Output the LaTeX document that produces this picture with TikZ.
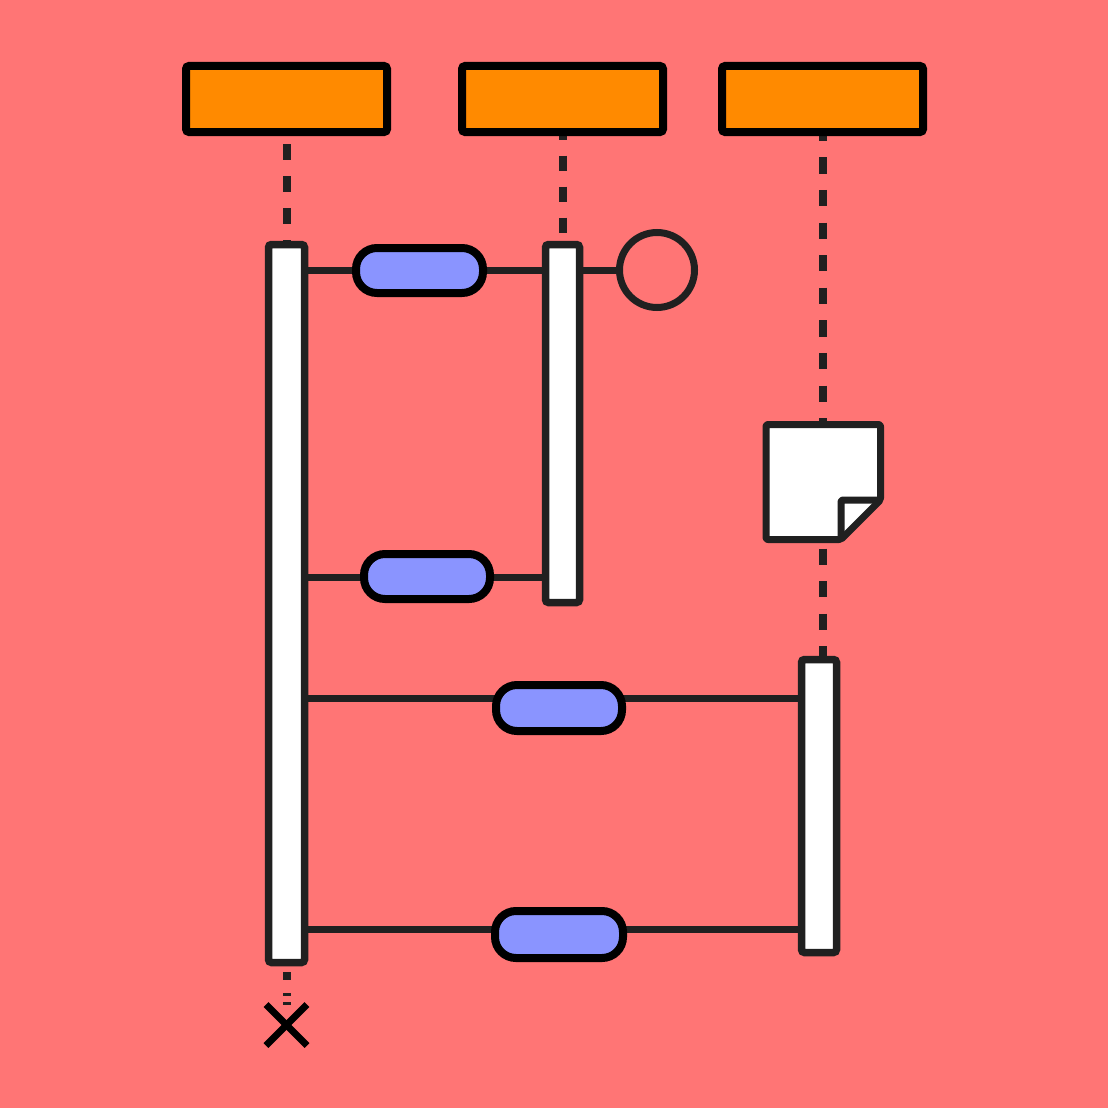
\documentclass[tikz,border=0pt]{standalone}
\usetikzlibrary{calc}
\definecolor{bgc}{HTML}{FF7575}
\definecolor{orng}{HTML}{FF8A00}
\definecolor{pillc}{HTML}{8A94FF}
\definecolor{ink}{HTML}{202020}
\pgfdeclarelayer{back}
\pgfdeclarelayer{lines}
\pgfsetlayers{back,lines,main}
\begin{document}
\begin{tikzpicture}[x=1pt,y=-1pt,
  header/.style={draw=black,fill=orng,line width=8pt,minimum width=201pt,minimum height=66pt,rounded corners=3pt,inner sep=0pt,outer sep=0pt},
  actbox/.style={draw=ink,fill=white,line width=7.5pt,rounded corners=3pt,inner sep=0pt,outer sep=0pt},
  msgpill/.style={draw=black,fill=pillc,line width=8pt,rounded corners=21pt,minimum width=127pt,minimum height=45pt,inner sep=0pt,outer sep=0pt},
  lifeline/.style={draw=ink,line width=8pt},
  msgline/.style={draw=ink,line width=7pt}]
\begin{pgfonlayer}{back}
\fill[bgc] (0,0) rectangle (1108,1108);
\end{pgfonlayer}
\useasboundingbox (0,0) rectangle (1108,1108);

% headers
\node[header] (h1) at (286.5,99) {};
\node[header] (h2) at (562.5,99) {};
\node[header] (h3) at (822.5,99) {};

% activation boxes
\node[actbox,minimum width=36pt,minimum height=718pt] (actA) at (286.5,603.5) {};
\node[actbox,minimum width=34pt,minimum height=358pt] (actB) at (562.5,423.5) {};
\node[actbox,minimum width=35pt,minimum height=293pt] (actC) at (819,806) {};

% message rows
\coordinate (m1) at (0,270);
\coordinate (m2) at (0,577);
\coordinate (m3) at (0,698);
\coordinate (m4) at (0,929.5);

% pills
\node[msgpill] (p1) at (419.5,270.5) {};
\node[msgpill,minimum width=126pt] (p2) at (427,576.5) {};
\node[msgpill,minimum width=126pt,minimum height=46pt] (p3) at (559,708) {};
\node[msgpill,minimum width=128pt,minimum height=47pt] (p4) at (559,934.5) {};

% circle
\node[draw=ink,line width=7pt,circle,minimum size=75pt,inner sep=0pt,outer sep=0pt] (circ) at (657,270) {};

% note
\coordinate (lc) at (823,132);
\draw[ink,line width=7pt,fill=white,line join=round,rounded corners=2pt]
  (766,424.5) -- (880.5,424.5) -- (880.5,500) -- (841,539.5) -- (766,539.5) -- cycle;
\draw[ink,line width=7pt,line join=round,rounded corners=2pt]
  (841,539.5) -- (841,500) -- (880.5,500);

\begin{pgfonlayer}{lines}
\draw[lifeline,dash pattern=on 16pt off 16pt,dash phase=20pt] (h1.south) -- (actA.north);
\draw[lifeline,dash pattern=on 15.5pt off 15.5pt,dash phase=7.5pt] (h2.south) -- (actB.north);
\draw[lifeline,dash pattern=on 16.3pt off 16.3pt,dash phase=7.3pt] (lc) -- (lc |- actC.north);
\draw[msgline] (actA.east |- m1) -- (actB.west |- m1);
\draw[msgline] (actB.east |- m1) -- (circ.west |- m1);
\draw[msgline] (actA.east |- m2) -- (actB.west |- m2);
\draw[msgline] (actA.east |- m3) -- (actC.west |- m3);
\draw[msgline] (actA.east |- m4) -- (actC.west |- m4);
\end{pgfonlayer}

% end of lifeline A
\fill[ink] (283,972) rectangle (291,980);
\fill[ink] (283,992.5) rectangle (291,995.5);
\fill[ink] (283,1002) rectangle (291,1005);
\coordinate (xm) at (286.5,1025);
\draw[black,line width=7pt] ($(xm)+(-20.5,-20.5)$) -- ($(xm)+(20.5,20.5)$);
\draw[black,line width=7pt] ($(xm)+(20.5,-20.5)$) -- ($(xm)+(-20.5,20.5)$);
\end{tikzpicture}
\end{document}
